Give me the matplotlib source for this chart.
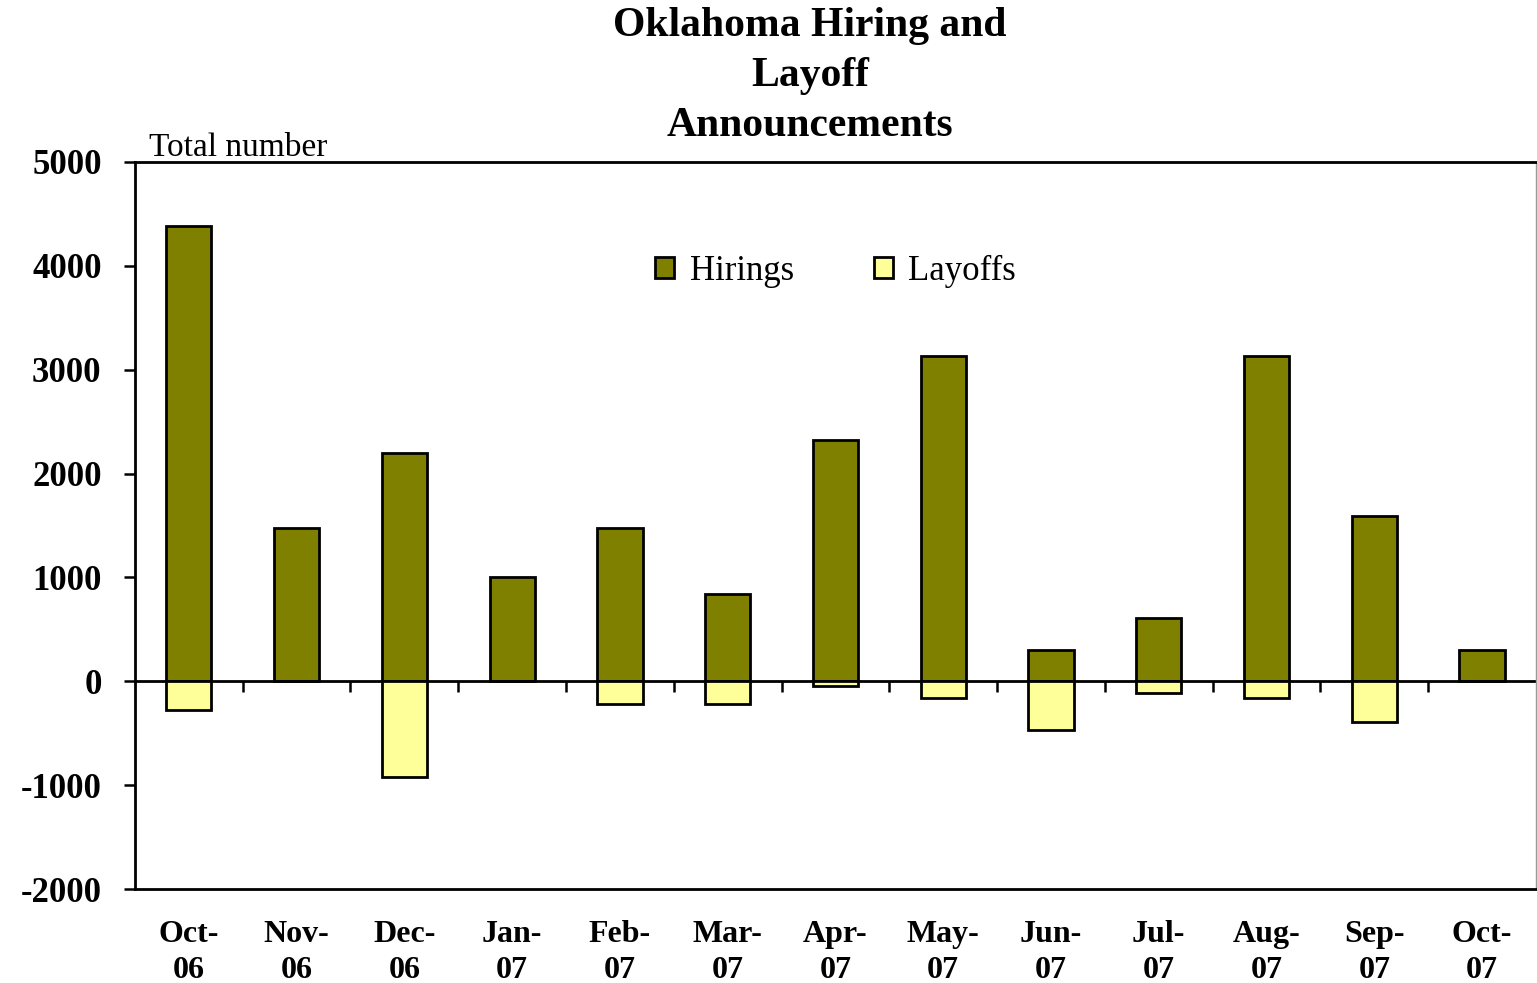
import numpy as np
import matplotlib.pyplot as plt

# dane
months = ["Oct-\n06", "Nov-\n06", "Dec-\n06", "Jan-\n07", "Feb-\n07", "Mar-\n07", "Apr-\n07",
          "May-\n07", "Jun-\n07", "Jul-\n07", "Aug-\n07", "Sep-\n07", "Oct-\n07"]
hirings = [4380, 1480, 2200, 1000, 1480, 840, 2320, 3130, 300, 610, 3130, 1590, 300]
layoffs = [-280, 0, -920, 0, -220, -220, -50, -160, -470, -110, -160, -390, 0]

plt.rcParams['font.family'] = ['Liberation Serif', 'DejaVu Serif']

fig = plt.figure(figsize=(15.37, 9.83), dpi=100)
ax = fig.add_axes([0.0878, 0.0956, 0.9115, 0.7396])

x = np.arange(len(months))
w = 0.42
ax.bar(x, hirings, w, color='#808000', edgecolor='black', linewidth=2.0, label='Hirings', zorder=3)
ax.bar(x, layoffs, w, color='#FFFF99', edgecolor='black', linewidth=2.0, label='Layoffs', zorder=3)

ax.set_xlim(-0.5, len(months) - 0.5)
ax.set_ylim(-2000, 5000)
ax.set_yticks(np.arange(-2000, 5001, 1000))
ax.set_yticklabels([str(v) for v in range(-2000, 5001, 1000)], fontsize=25, fontweight='bold')
ax.tick_params(axis='y', direction='out', length=8, width=1.8, pad=16)

ax.set_xticks(x)
ax.set_xticklabels(months, fontsize=23, fontweight='bold', linespacing=1.35)
ax.tick_params(axis='x', length=0, pad=22)

for s in ['left', 'top', 'bottom']:
    ax.spines[s].set_linewidth(2.0)
ax.spines['right'].set_color('#999999')
ax.spines['right'].set_linewidth(1.0)

# linia zero z podzialka miedzy miesiacami
zero = ax.secondary_xaxis(2000 / 7000)
zero.set_xticks(np.arange(0.5, len(months) - 1, 1.0))
zero.set_xticklabels([])
zero.tick_params(direction='out', length=8, width=1.8)
zero.spines['bottom'].set_linewidth(2.0)

ax.legend(loc='upper center', bbox_to_anchor=(0.5, 0.915), ncol=2, frameon=False, fontsize=25,
          handlelength=0.55, handleheight=0.55, columnspacing=2.3, handletextpad=0.45)

fig.text(0.527, 0.993, "Oklahoma Hiring and\nLayoff\nAnnouncements", ha='center', va='top',
         fontsize=30, fontweight='bold', linespacing=1.42)
fig.text(0.097, 0.834, "Total number", ha='left', va='bottom', fontsize=24)

plt.savefig('out.png', dpi=100)
